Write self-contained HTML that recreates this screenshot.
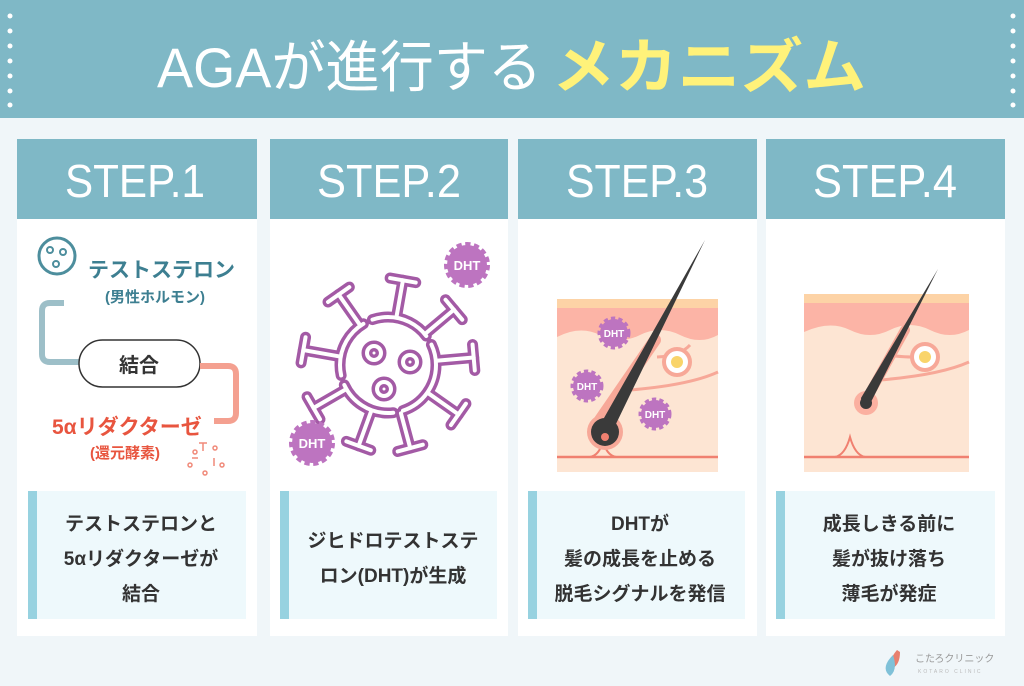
<!DOCTYPE html>
<html><head><meta charset="utf-8"><style>
html,body{margin:0;padding:0;background:#f0f6f9;}
svg{display:block;font-family:"Liberation Sans","Noto Sans CJK JP",sans-serif;}
</style></head><body>
<svg width="1024" height="686" viewBox="0 0 1024 686" xmlns="http://www.w3.org/2000/svg">
<defs>
<g id="badge"><circle r="20" fill="#bd74c0" stroke="#bd74c0" stroke-width="6" stroke-dasharray="5 3.4"/></g>
<g id="spike"><line x1="50" y1="0" x2="86" y2="0"/><line x1="86" y1="-13" x2="86" y2="13"/></g>
<g id="vir">
<circle r="48" fill="none" stroke-dasharray="60 10"/>
<use href="#spike" transform="rotate(-125)"/><use href="#spike" transform="rotate(-80)"/>
<use href="#spike" transform="rotate(-40)"/><use href="#spike" transform="rotate(-5)"/>
<use href="#spike" transform="rotate(35)"/><use href="#spike" transform="rotate(75)"/>
<use href="#spike" transform="rotate(110)"/><use href="#spike" transform="rotate(150)"/>
<use href="#spike" transform="rotate(190)"/>
<circle cx="-14" cy="-12" r="7" fill="none"/><circle cx="22" cy="-3" r="7" fill="none"/><circle cx="-4" cy="24" r="7" fill="none"/>
</g>
</defs>
<rect x="0" y="0" width="1024" height="118" fill="#7fb8c6"/>
<g fill="#fff">
<circle cx="10" cy="16" r="2.5"/><circle cx="10" cy="31" r="2.5"/><circle cx="10" cy="46" r="2.5"/><circle cx="10" cy="61" r="2.5"/><circle cx="10" cy="76" r="2.5"/><circle cx="10" cy="91" r="2.5"/><circle cx="10" cy="105" r="2.5"/>
<circle cx="1013" cy="16" r="2.5"/><circle cx="1013" cy="31" r="2.5"/><circle cx="1013" cy="46" r="2.5"/><circle cx="1013" cy="61" r="2.5"/><circle cx="1013" cy="76" r="2.5"/><circle cx="1013" cy="91" r="2.5"/><circle cx="1013" cy="105" r="2.5"/>
</g>
<text x="157" y="87" font-size="56" fill="#fff" textLength="385" lengthAdjust="spacingAndGlyphs">AGAが進行する</text>
<text x="552" y="88" font-size="60" fill="#fff27a" font-weight="bold" textLength="314" lengthAdjust="spacingAndGlyphs">メカニズム</text>

<g>
<rect x="17" y="139" width="240" height="497" fill="#fff"/>
<rect x="270" y="139" width="238" height="497" fill="#fff"/>
<rect x="518" y="139" width="239" height="497" fill="#fff"/>
<rect x="766" y="139" width="239" height="497" fill="#fff"/>
<g fill="#7fb8c6">
<rect x="17" y="139" width="240" height="80"/><rect x="270" y="139" width="238" height="80"/>
<rect x="518" y="139" width="239" height="80"/><rect x="766" y="139" width="239" height="80"/>
</g>
<g fill="#fff" font-size="46" text-anchor="middle">
<text x="135" y="197" textLength="140" lengthAdjust="spacingAndGlyphs">STEP.1</text><text x="389" y="197" textLength="144" lengthAdjust="spacingAndGlyphs">STEP.2</text>
<text x="637" y="197" textLength="142" lengthAdjust="spacingAndGlyphs">STEP.3</text><text x="885" y="197" textLength="144" lengthAdjust="spacingAndGlyphs">STEP.4</text>
</g>
<g fill="#eef9fc">
<rect x="28" y="491" width="218" height="128"/><rect x="280" y="491" width="217" height="128"/>
<rect x="528" y="491" width="217" height="128"/><rect x="776" y="491" width="219" height="128"/>
</g>
<g fill="#97d2e0">
<rect x="28" y="491" width="9" height="128"/><rect x="280" y="491" width="9" height="128"/>
<rect x="528" y="491" width="9" height="128"/><rect x="776" y="491" width="9" height="128"/>
</g>
<g fill="#333" font-size="19" font-weight="bold" text-anchor="middle">
<text x="141" y="530">テストステロンと</text><text x="141" y="565">5αリダクターゼが</text><text x="141" y="600">結合</text>
<text x="393" y="547">ジヒドロテストステ</text><text x="393" y="582">ロン(DHT)が生成</text>
<text x="640" y="530">DHTが</text><text x="640" y="565">髪の成長を止める</text><text x="640" y="600">脱毛シグナルを発信</text>
<text x="889" y="530">成長しきる前に</text><text x="889" y="565">髪が抜け落ち</text><text x="889" y="600">薄毛が発症</text>
</g>
</g>

<!-- step1 -->
<circle cx="57" cy="256" r="18" fill="none" stroke="#4d8e9d" stroke-width="3"/>
<g fill="none" stroke="#4d8e9d" stroke-width="2"><circle cx="50" cy="250" r="3"/><circle cx="63" cy="252" r="3"/><circle cx="56" cy="264" r="3"/></g>
<text x="88" y="277" font-size="21" font-weight="bold" fill="#3d7f91">テストステロン</text>
<text x="105" y="302" font-size="15" font-weight="bold" fill="#3d7f91">(男性ホルモン)</text>
<path d="M64 303 H50 Q42 303 42 311 V354 Q42 362 50 362 H80" fill="none" stroke="#9dbfc8" stroke-width="6"/>
<rect x="79" y="340" width="121" height="47" rx="23.5" fill="#fff" stroke="#333" stroke-width="1.5"/>
<text x="139" y="372" font-size="20" font-weight="bold" fill="#333" text-anchor="middle">結合</text>
<path d="M200 366 H228 Q236 366 236 374 V413 Q236 421 228 421 H214" fill="none" stroke="#f4a090" stroke-width="6"/>
<text x="52" y="434" font-size="21" font-weight="bold" fill="#e8553f">5αリダクターゼ</text>
<text x="90" y="458" font-size="15" font-weight="bold" fill="#e8553f">(還元酵素)</text>
<g fill="none" stroke="#f08a7a" stroke-width="1.5">
<circle cx="195" cy="452" r="2"/><circle cx="215" cy="448" r="2"/><circle cx="190" cy="465" r="2"/><circle cx="222" cy="465" r="2"/><circle cx="205" cy="473" r="2"/>
<path d="M203 443v8M199 443h8M214 458v8M192 458h6"/>
</g>

<!-- step2 -->
<g transform="translate(388,365)" stroke="#a35aa5" stroke-width="11" stroke-linecap="round" fill="none"><use href="#vir"/></g>
<g transform="translate(388,365)" stroke="#fff" stroke-width="4" stroke-linecap="round" fill="none"><use href="#vir"/></g>
<use href="#badge" x="467" y="265"/><use href="#badge" x="312" y="443"/>
<g fill="#fff" font-size="13" font-weight="bold" text-anchor="middle"><text x="467" y="270">DHT</text><text x="312" y="448">DHT</text></g>

<!-- step3 -->
<rect x="557" y="299" width="161" height="173" fill="#fde5d3"/>
<rect x="557" y="299" width="161" height="9" fill="#fdd3a6"/>
<path d="M557 308 H718 V335 Q700 345 680 335 Q660 325 640 335 Q620 345 600 335 Q580 325 557 337 Z" fill="#fcb4a6"/>
<path d="M657 357 Q680 356 690 345" fill="none" stroke="#f7a898" stroke-width="3"/>
<path d="M630 390 Q690 385 718 372" fill="none" stroke="#f7a898" stroke-width="3"/>
<circle cx="677" cy="362" r="13" fill="#fff" stroke="#f7a898" stroke-width="4"/>
<circle cx="677" cy="362" r="6" fill="#f9d46a"/>
<path d="M557 457 H718" stroke="#f08070" stroke-width="2.5"/>
<path d="M590 457 Q600 455 603 440 Q606 455 616 457" fill="none" stroke="#f08070" stroke-width="2"/>
<path d="M655 340 L600 420" stroke="#f7a898" stroke-width="12" stroke-linecap="round"/>
<circle cx="605" cy="432" r="18" fill="#f7a898"/>
<path d="M705 240 L600 425 Q596 440 606 443 Q616 442 614 428 Z" fill="#3a3a3a"/>
<circle cx="605" cy="432" r="14" fill="#3a3a3a"/>
<circle cx="605" cy="437" r="4" fill="#f08070"/>
<g>
<circle cx="614" cy="333" r="14" fill="#bd74c0" stroke="#bd74c0" stroke-width="5" stroke-dasharray="4 3"/>
<circle cx="587" cy="386" r="14" fill="#bd74c0" stroke="#bd74c0" stroke-width="5" stroke-dasharray="4 3"/>
<circle cx="655" cy="414" r="14" fill="#bd74c0" stroke="#bd74c0" stroke-width="5" stroke-dasharray="4 3"/>
</g>
<g fill="#fff" font-size="10" font-weight="bold" text-anchor="middle"><text x="614" y="337">DHT</text><text x="587" y="390">DHT</text><text x="655" y="418">DHT</text></g>

<!-- step4 -->
<rect x="804" y="294" width="165" height="178" fill="#fde5d3"/>
<rect x="804" y="294" width="165" height="9" fill="#fdd3a6"/>
<path d="M804 303 H969 V330 Q950 340 930 330 Q910 320 890 330 Q870 340 850 330 Q830 320 804 332 Z" fill="#fcb4a6"/>
<path d="M880 380 Q940 375 969 362" fill="none" stroke="#f7a898" stroke-width="3"/>
<path d="M895 356 Q905 357 912 357" fill="none" stroke="#f7a898" stroke-width="3"/>
<circle cx="925" cy="357" r="13" fill="#fff" stroke="#f7a898" stroke-width="4"/>
<circle cx="925" cy="357" r="6" fill="#f9d46a"/>
<path d="M905 330 L866 400" stroke="#f7a898" stroke-width="10" stroke-linecap="round"/>
<circle cx="866" cy="403" r="12" fill="#fbb0a0"/>
<path d="M938 269 L861 398 Q862 410 870 404 Z" fill="#3a3a3a"/>
<circle cx="866" cy="403" r="6" fill="#3a3a3a"/>
<path d="M804 457 H969" stroke="#f08070" stroke-width="2.5"/>
<path d="M835 457 Q845 455 850 437 Q855 455 865 457" fill="none" stroke="#f08070" stroke-width="2"/>

<!-- logo -->
<path d="M897 650 Q888 660 893 668 Q900 664 900 652 Z" fill="#e8806f"/>
<path d="M893 655 Q880 668 890 676 Q898 670 893 655 Z" fill="#7fc1d8"/>
<text x="915" y="662" font-size="10" fill="#999">こたろクリニック</text>
<text x="918" y="673" font-size="5" fill="#bbb" letter-spacing="2">KOTARO CLINIC</text>
</svg>
</body></html>
